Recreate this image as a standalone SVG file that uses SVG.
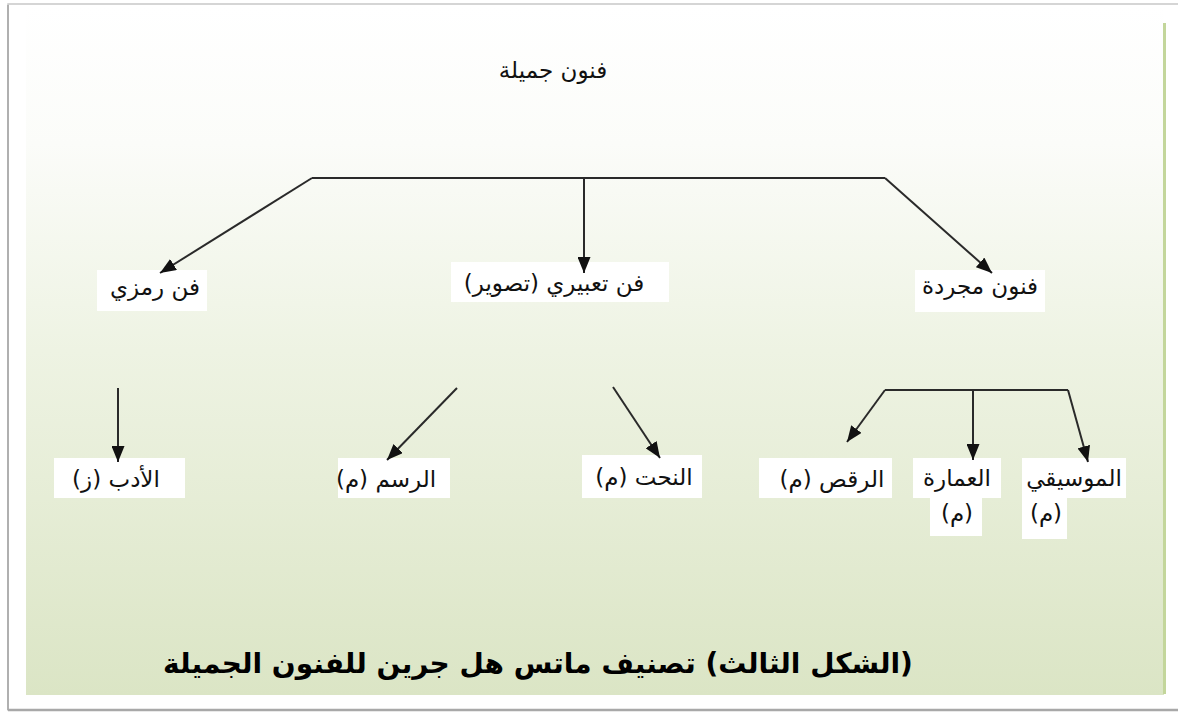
<svg xmlns="http://www.w3.org/2000/svg" width="1178" height="713" viewBox="0 0 1178 713">
<defs>
<linearGradient id="bg" x1="0" y1="0" x2="0" y2="1">
<stop offset="0" stop-color="#ffffff"/>
<stop offset="0.2" stop-color="#fbfcf9"/>
<stop offset="0.5" stop-color="#eef3e3"/>
<stop offset="1" stop-color="#dbe5c5"/>
</linearGradient>
<marker id="ah" viewBox="0 0 16 13" refX="16" refY="6.5" markerWidth="16" markerHeight="13" markerUnits="userSpaceOnUse" orient="auto">
<path d="M0,0 L16,6.5 L0,13 Z" fill="#111"/>
</marker>
<style>
.lbl{font-family:"DejaVu Sans","Noto Sans",sans-serif;font-size:23px;fill:#111;text-anchor:middle}
.cap{font-family:"DejaVu Sans","Noto Sans",sans-serif;font-size:28px;font-weight:bold;fill:#000;text-anchor:middle}
.box{fill:#ffffff}
.ln{fill:none;stroke:#2a2a2a;stroke-width:2}
.ar{fill:none;stroke:#2a2a2a;stroke-width:2;marker-end:url(#ah)}
</style>
</defs>
<rect x="0" y="0" width="1178" height="713" fill="#ffffff"/>
<g id="frame">
<rect x="8" y="4" width="1172" height="706" fill="#ffffff" stroke="#c8c8c8" stroke-width="1.5"/>
<line x1="8" y1="5" x2="8" y2="710" stroke="#b0b0b0" stroke-width="2"/>
<line x1="8" y1="710" x2="1178" y2="710" stroke="#a8a8a8" stroke-width="2.5"/>
<rect x="26" y="6" width="1138" height="689" fill="url(#bg)"/>
<line x1="1164.5" y1="23" x2="1164.5" y2="694" stroke="#c3d69b" stroke-width="3"/>
</g>
<g id="n-root">
<text class="lbl" x="553" y="78" direction="rtl">فنون جميلة</text>
</g>
<g id="n-ramzi">
<rect class="box" x="97" y="270" width="110" height="41"/>
<text class="lbl" x="155" y="295" direction="rtl">فن رمزي</text>
</g>
<g id="n-tabiri">
<rect class="box" x="451" y="262" width="218" height="40"/>
<text class="lbl" x="554" y="291" direction="rtl">فن تعبيري (تصوير)</text>
</g>
<g id="n-mujarrada">
<rect class="box" x="915" y="270" width="130" height="42"/>
<text class="lbl" x="980" y="294" direction="rtl">فنون مجردة</text>
</g>
<g id="n-adab">
<rect class="box" x="54" y="458" width="131" height="40"/>
<text class="lbl" x="116" y="487" direction="rtl">الأدب (ز)</text>
</g>
<g id="n-rasm">
<rect class="box" x="338" y="458" width="112" height="40"/>
<text class="lbl" x="386" y="487" direction="rtl">الرسم (م)</text>
</g>
<g id="n-naht">
<rect class="box" x="582" y="455" width="120" height="43"/>
<text class="lbl" x="644" y="485" direction="rtl">النحت (م)</text>
</g>
<g id="n-raqs">
<rect class="box" x="759" y="458" width="133" height="40"/>
<text class="lbl" x="832" y="487" direction="rtl">الرقص (م)</text>
</g>
<g id="n-imara">
<rect class="box" x="913" y="458" width="88" height="40"/>
<rect class="box" x="930" y="496" width="52" height="40"/>
<text class="lbl" x="957" y="486" direction="rtl">العمارة</text>
<text class="lbl" x="957" y="521" direction="rtl">(م)</text>
</g>
<g id="n-musiqi">
<rect class="box" x="1022" y="458" width="104" height="40"/>
<rect class="box" x="1022" y="496" width="45" height="43"/>
<text class="lbl" x="1074" y="486" direction="rtl">الموسيقي</text>
<text class="lbl" x="1046" y="521" direction="rtl">(م)</text>
</g>
<g id="connectors">
<polyline class="ln" points="312,178 885,178"/>
<line class="ar" x1="312" y1="178" x2="160" y2="273"/>
<line class="ar" x1="584" y1="178" x2="584" y2="273"/>
<line class="ar" x1="885" y1="178" x2="992" y2="273"/>
<line class="ar" x1="118" y1="388" x2="118" y2="462"/>
<line class="ar" x1="457" y1="388" x2="387" y2="460"/>
<line class="ar" x1="613" y1="387" x2="660" y2="458"/>
<polyline class="ln" points="885,390 1068,390"/>
<line class="ar" x1="885" y1="390" x2="847" y2="442"/>
<line class="ar" x1="973" y1="390" x2="973" y2="460"/>
<line class="ar" x1="1068" y1="390" x2="1088" y2="462"/>
</g>
<g id="caption">
<text class="cap" x="538" y="673" direction="rtl">(الشكل الثالث) تصنيف ماتس هل جرين للفنون الجميلة</text>
</g>
</svg>
